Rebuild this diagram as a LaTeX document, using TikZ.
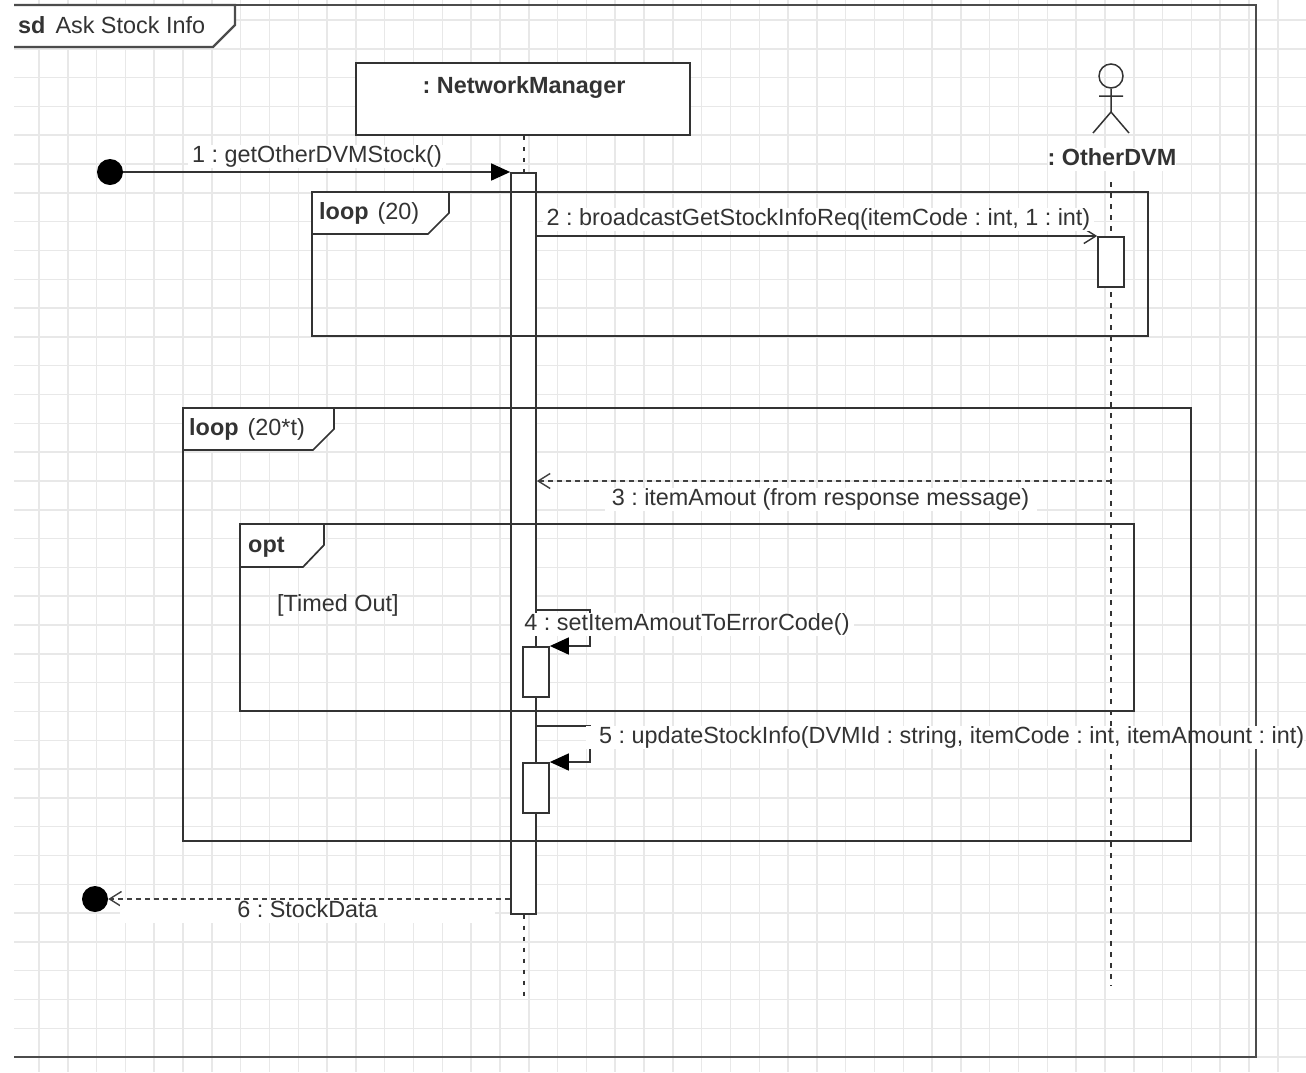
\documentclass[tikz,border=0pt]{standalone}
\usepackage{fontspec}
\setmainfont{Liberation Sans}
\usetikzlibrary{arrows.meta,calc}
\frenchspacing
\tikzset{
  ink/.style={draw=black!80,line width=1.7pt},
  framebox/.style={ink,fill=none},
  tabshape/.style={ink,fill=white},
  outerline/.style={draw=black!70,line width=2.2pt},
  gridline/.style={draw=black!9,line width=1.5pt},
  lifeline/.style={draw=black!80,line width=2pt,dash pattern=on 4.5pt off 6.5pt},
  actbox/.style={ink,fill=white,minimum width=#1,inner sep=0pt,anchor=north},
  msg/.style={draw=black!80,line width=1.6pt},
  ret/.style={draw=black!75,line width=1.3pt,dash pattern=on 5pt off 4pt},
  filledtip/.style={-{Triangle[length=19pt,width=17pt,color=black,fill=black]}},
  opentip/.style={-{Straight Barb[length=12pt,width=15pt,line width=1.4pt]}},
  lbl/.style={fill=white,text=black!80,anchor=base,inner xsep=0pt,inner ysep=0pt,text height=17pt,text depth=5.5pt,font=\fontsize{23.4pt}{27pt}\selectfont},
  plain/.style={text=black!80,anchor=base west,inner sep=0pt,font=\fontsize{23.4pt}{27pt}\selectfont},
  dot/.style={circle,fill=black,inner sep=0pt,minimum size=26pt}
}
\begin{document}
\begin{tikzpicture}[x=1pt,y=-1pt]
\useasboundingbox (0,0) rectangle (1306,1072);
\fill[white] (0,0) rectangle (1306,1072);
% grid
\foreach \k in {0,...,43} {\draw[gridline] ({39+28.81*\k},0) -- ({39+28.81*\k},1072);}
\foreach \k in {0,...,36} {\draw[gridline] (14,{20+28.81*\k}) -- (1306,{20+28.81*\k});}
% outer frame
\draw[outerline] (14,5) -- (1256,5) -- (1256,1057) -- (14,1057);
\draw[outerline,fill=white] (14,5) -- (235,5) -- (235,25) -- (213,47) -- (14,47);
\node[plain] (sdt) at (18,33) {\textbf{sd}\hspace{10pt}Ask Stock Info};
% participant
\node[ink,fill=white,minimum width=334pt,minimum height=72pt,inner sep=0pt] (nm) at (523,99) {};
\node[plain,anchor=base,font=\fontsize{23.4pt}{27pt}\selectfont\bfseries] (nmtext) at (524,93) {: NetworkManager};
% actor
\coordinate (actorhip) at (1111,112);
\node[draw=black!80,line width=1.5pt,circle,minimum size=24pt,inner sep=0pt] (head) at (1111,76) {};
\coordinate (armL) at (1099,96);
\coordinate (armR) at (1123,96);
\coordinate (legL) at (1093,133);
\coordinate (legR) at (1129,133);
\draw[draw=black!80,line width=1.5pt] (head.south) -- (actorhip) (armL) -- (armR) (legL) -- (actorhip) -- (legR);
\node[lbl,font=\fontsize{23.4pt}{27pt}\selectfont\bfseries] (actor) at (1112,165) {: OtherDVM};
\coordinate (actortop) at (1111,182);
\coordinate (actorbot) at (1111,986);
\coordinate (nmbot) at (524,997);
% lifelines and activations
\draw[lifeline] (nm.south -| 524,0) -- (524,172);
\node[actbox=25pt,minimum height=741pt] (a1) at (523.5,172) {};
\draw[lifeline] (a1.south -| 524,0) -- (nmbot);
\draw[lifeline] (actortop) -- (actorbot);
\node[actbox=26pt,minimum height=50pt] (a2) at (1111,236) {};
\node[actbox=26pt,minimum height=50pt] (a4) at (536,646) {};
\node[actbox=26pt,minimum height=50pt] (a5) at (536,762) {};
% end points
\node[dot] (start) at (110,172) {};
\node[dot] (stop) at (95,899) {};
\coordinate (m3) at (1111,481);
\coordinate (s4a) at (a1.east |- 0,610);
\coordinate (s4b) at (590,610);
\coordinate (s5a) at (a1.east |- 0,726);
\coordinate (s5b) at (590,726);
% messages
\draw[msg,filledtip] (start) -- (a1.north west);
\draw[msg,opentip] (a1.east |- a2.north) -- (a2.north west);
\draw[ret,opentip] (m3) -- (a1.east |- m3);
\draw[msg,filledtip] (s4a) -- (s4b) -- (s4b |- a4.north) -- (a4.north east);
\draw[msg,filledtip] (s5a) -- (s5b) -- (s5b |- a5.north) -- (a5.north east);
\draw[ret,opentip] (a1.west |- stop) -- (stop.east);
% labels
\node[lbl,minimum width=258pt] (l1) at (317,162) {1 : getOtherDVMStock()};
\node[lbl,minimum width=551pt] (l2) at (818.5,225) {2 : broadcastGetStockInfoReq(itemCode : int, 1 : int)};
\node[lbl,minimum width=432pt] (l3) at (820.5,505) {3 : itemAmout (from response message)};
\node[lbl,minimum width=334pt] (l4) at (687,630) {4 : setItemAmoutToErrorCode()};
\node[lbl,anchor=base west] (l5) at (586,743) {\hspace*{13pt}5 : updateStockInfo(DVMId : string, itemCode : int, itemAmount : int)};
\node[lbl,minimum width=375pt] (l6) at (307.5,917) {6 : StockData};
% frames
\draw[framebox] (312,192) rectangle (1148,336);
\draw[tabshape] (312,192) -- (449,192) -- (449,213) -- (428,234) -- (312,234) -- cycle;
\node[plain] (t1) at (319,219) {\textbf{loop}\hspace{9pt}(20)};
\draw[framebox] (183,408) rectangle (1191,841);
\draw[tabshape] (183,408) -- (334,408) -- (334,429) -- (313,450) -- (183,450) -- cycle;
\node[plain] (t2) at (189,435) {\textbf{loop}\hspace{9pt}(20*t)};
\draw[framebox] (240,524) rectangle (1134,711);
\draw[tabshape] (240,524) -- (324,524) -- (324,545) -- (303,567) -- (240,567) -- cycle;
\node[plain] (t3) at (248,552) {\textbf{opt}};
\node[plain] (t4) at (277,611) {[Timed Out]};
\end{tikzpicture}
\end{document}
